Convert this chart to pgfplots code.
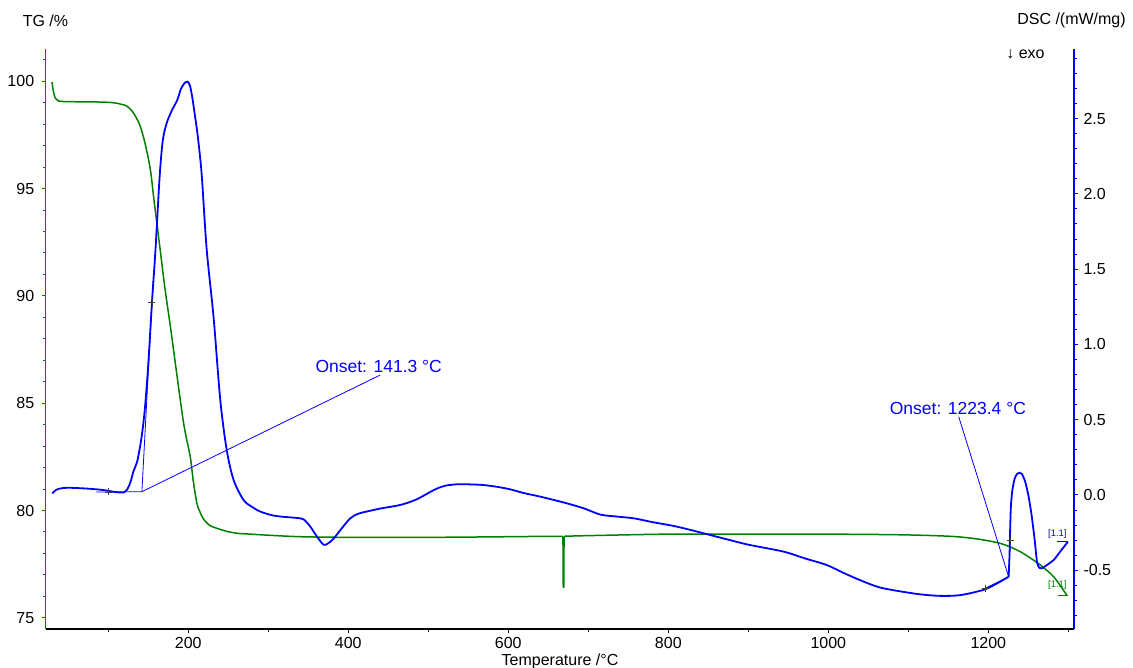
\documentclass[border=0pt]{standalone}
\usepackage{fontspec}
\setmainfont{Liberation Sans}
\usepackage{pgfplots}
\pgfplotsset{compat=1.18}
\definecolor{tggreen}{RGB}{0,128,0}
\definecolor{dscblue}{RGB}{0,0,255}
\begin{document}
\fontsize{16}{19}\selectfont
\begin{tikzpicture}
\begin{axis}[
  at={(0,0)}, anchor=south west,
  scale only axis, width=1028.3pt, height=579.7pt,
  xmin=21.75, xmax=1307.1, ymin=74.48, ymax=101.49,
  axis x line=bottom, axis y line=left,
  axis line style={-},
  x axis line style={black, line width=1.3pt},
  y axis line style={tggreen, line width=1.5pt},
  xtick={200,400,...,1200},
  minor xtick={100,300,...,1300},
  ytick={75,80,...,100},
  minor ytick={75,76,...,101},
  tick align=outside,
  major tick length=4pt, minor tick length=3pt,
  xtick style={black, line width=0.8pt},
  ytick style={tggreen, line width=1pt},
  /pgf/number format/assume math mode=true,
  /pgf/number format/1000 sep={},
  yticklabel style={black, xshift=-2pt},
  xticklabel style={black, yshift=1.3pt},
]
\addplot[tggreen, line width=1.5pt, smooth, tension=0.5] coordinates {
(29.6,99.97)(31.5,99.5)(34,99.2)(38,99.08)(50,99.05)(80,99.04)(100,99.02)
(110,98.98)(117,98.92)(123,98.85)(130,98.6)(135,98.3)(140,97.9)(146,97.1)
(152.5,95.9)(157,94.5)(161,93.3)(165,92.1)(171,90.3)(177.5,88.6)(184,86.8)
(190,85.15)(194,84.1)(198,83.3)(202.5,82.5)(206.6,81.27)(211,80.3)(215,79.9)
(219,79.6)(227,79.3)(236,79.17)(248,79.03)(261,78.94)(277.5,78.9)(300,78.85)
(340,78.78)(400,78.75)(500,78.75)(600,78.78)(650,78.8)(668.3,78.8)
};
\addplot[tggreen, line width=1.5pt] coordinates {
(668.3,78.8)(668.7,76.42)(669.3,76.42)(669.7,78.8)
};
\addplot[tggreen, line width=1.5pt, smooth, tension=0.5] coordinates {
(669.7,78.8)(700,78.83)(800,78.9)(900,78.9)
(1000,78.9)(1090,78.87)(1152,78.8)(1185,78.68)(1215,78.47)(1236,78.16)
(1250,77.85)(1265,77.46)(1282,76.9)(1298,76.06)
};
\addplot[tggreen, line width=0.6pt] coordinates {(1287,76.06)(1300,76.06)};
\node[tggreen, font=\fontsize{9.5}{11}\selectfont] at (axis cs:1286.3,76.55) {[1.1]};
\end{axis}
\begin{axis}[
  at={(0,0)}, anchor=south west,
  scale only axis, width=1028.3pt, height=579.7pt,
  xmin=21.75, xmax=1307.1, ymin=-0.89, ymax=2.96,
  axis x line=none, axis y line=right,
  axis line style={-},
  y axis line style={dscblue, line width=1.5pt},
  ytick={-0.5,0,0.5,1,1.5,2,2.5},
  minor ytick={-0.8,-0.7,-0.6,-0.4,-0.3,-0.2,-0.1,0.1,0.2,0.3,0.4,0.6,0.7,0.8,0.9,1.1,1.2,1.3,1.4,1.6,1.7,1.8,1.9,2.1,2.2,2.3,2.4,2.6,2.7,2.8,2.9},
  tick align=outside,
  major tick length=4pt, minor tick length=3pt,
  ytick style={dscblue, line width=1pt},
  /pgf/number format/assume math mode=true,
  yticklabel style={black, /pgf/number format/fixed, /pgf/number format/fixed zerofill, /pgf/number format/precision=1},
]
\addplot[dscblue, line width=1.8pt, smooth, tension=0.5] coordinates {
(30,0.01)(35,0.035)(42,0.045)(50,0.048)(65,0.045)(80,0.04)(95,0.032)(108,0.02)
(115,0.016)(119,0.016)(124,0.04)(128,0.09)(131.6,0.16)(136,0.22)(140,0.33)
(143,0.44)(146,0.59)(150,0.87)(154.6,1.28)(159,1.63)(164,2.1)(168,2.35)(173,2.47)
(180,2.56)(186,2.62)(191,2.7)(196,2.74)(199,2.745)(202,2.72)(205,2.64)
(208,2.53)(211,2.42)(214,2.28)(217,2.11)(223,1.63)(231.6,1.18)(240,0.63)(248,0.30)(256.6,0.10)
(269,-0.033)(280,-0.08)(290,-0.11)(305,-0.135)(319,-0.145)(340,-0.155)
(346,-0.17)(352.5,-0.21)(360,-0.27)(369,-0.33)(375,-0.32)(381.6,-0.29)
(392,-0.22)(402.5,-0.155)(412,-0.125)(423,-0.11)(440,-0.09)(465,-0.066)
(485,-0.03)(507,0.033)(520,0.06)(536,0.071)(555,0.07)(569,0.066)(585,0.055)
(602,0.038)(620,0.012)(640,-0.011)(673,-0.055)(695,-0.09)(715,-0.13)
(735,-0.143)(757,-0.155)(780,-0.18)(807,-0.206)(830,-0.235)(852.5,-0.266)
(870,-0.29)(877.5,-0.30)(900,-0.33)(944,-0.376)(970,-0.42)(998,-0.465)
(1020,-0.52)(1044,-0.575)(1065,-0.615)(1090,-0.64)(1115,-0.66)(1140,-0.67)
(1165,-0.665)(1194,-0.63)(1210,-0.59)(1225.4,-0.543)
};
\addplot[dscblue, line width=1.8pt, smooth, tension=0.4] coordinates {
(1225.4,-0.543)(1226.5,-0.40)(1228,-0.1)
(1230,0.03)(1233,0.11)(1236,0.14)(1239,0.148)(1242,0.14)(1246,0.09)
(1250,0.0)(1254,-0.13)(1258,-0.3)(1261,-0.45)(1264,-0.485)(1267,-0.487)
(1272,-0.47)(1282,-0.43)(1290,-0.375)(1299.6,-0.31)
};
\addplot[dscblue, line width=0.8pt] coordinates {(85,0.02)(142,0.022)(156,1.42)};
\addplot[dscblue, line width=0.8pt] coordinates {(142,0.022)(440,0.797)};
\addplot[dscblue, line width=0.8pt] coordinates {(1196,-0.62)(1225.4,-0.543)(1227.5,-0.303)};
\addplot[dscblue, line width=0.8pt] coordinates {(1225.4,-0.543)(1163,0.52)};
\addplot[only marks, mark=+, mark size=3.5pt, black!75, mark options={line width=0.7pt}] coordinates {
(100.4,0.02)(154.6,1.28)(1196,-0.62)(1227.5,-0.303)};
\addplot[dscblue, line width=0.6pt] coordinates {(1285.5,-0.31)(1299.6,-0.31)};
\node[dscblue, font=\fontsize{9.5}{11}\selectfont] at (axis cs:1286.3,-0.261) {[1.1]};
\node[dscblue, font=\fontsize{17.5}{20}\selectfont] at (axis cs:438,0.852) {Onset: 141.3 °C};
\node[dscblue, font=\fontsize{17.5}{20}\selectfont] at (axis cs:1162,0.576) {Onset: 1223.4 °C};
\end{axis}
\node at (-0.2pt,608.3pt) {TG /\%};
\node at (1025.8pt,609pt) {DSC /(mW/mg)};
\node at (979.8pt,575pt) {↓ exo};
\node at (514.3pt,-32.2pt) {Temperature /°C};
\pgfresetboundingbox
\path[use as bounding box] (-45.7pt,-38pt) rectangle (1087.3pt,629pt);
\end{tikzpicture}
\end{document}
